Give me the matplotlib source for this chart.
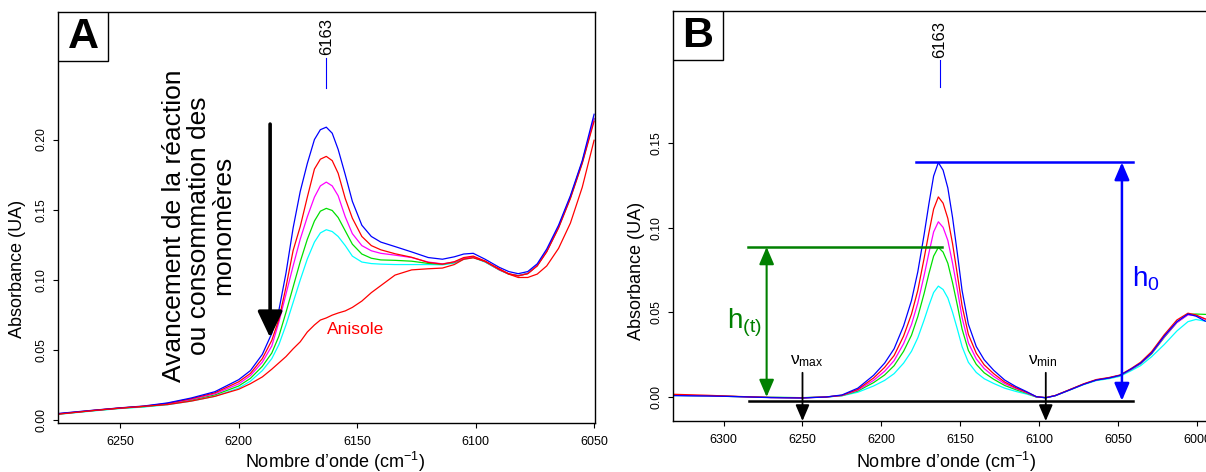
import matplotlib
matplotlib.use('Agg')
import matplotlib.pyplot as plt
from matplotlib.patches import Rectangle

plt.rcParams['font.family'] = ['Liberation Sans', 'DejaVu Sans']
plt.rcParams['mathtext.fontset'] = 'custom'
plt.rcParams['mathtext.rm'] = 'Liberation Sans'
plt.rcParams['mathtext.it'] = 'Liberation Sans:italic'
plt.rcParams['mathtext.bf'] = 'Liberation Sans:bold'

# ---- panneau A : spectres bruts ----
wnA = [6276, 6260, 6250, 6240, 6230, 6220, 6210, 6200, 6195, 6190, 6186, 6183, 6180, 6177, 6174,
       6171, 6168, 6165.5, 6163, 6160.5, 6158, 6155, 6152, 6148, 6144, 6140, 6134, 6127, 6120, 6114,
       6109, 6105, 6101, 6096, 6090, 6086, 6082, 6078, 6074, 6070, 6065, 6060, 6055, 6050]
blueA = [0.0050, 0.0075, 0.0090, 0.0103, 0.0125, 0.0160, 0.0205, 0.0290, 0.0355, 0.0470, 0.0620, 0.0785,
         0.1050, 0.1370, 0.1630, 0.1830, 0.2000, 0.2070, 0.2088, 0.2045, 0.1930, 0.1750, 0.1560, 0.1390,
         0.1310, 0.1270, 0.1238, 0.1200, 0.1160, 0.1148, 0.1165, 0.1185, 0.1190, 0.1148, 0.1090, 0.1060,
         0.1045, 0.1060, 0.1115, 0.1220, 0.1390, 0.1600, 0.1850, 0.2180]
redA = [0.0048, 0.0074, 0.0089, 0.0101, 0.0122, 0.0155, 0.0197, 0.0275, 0.0335, 0.0440, 0.0570, 0.0720,
        0.0950, 0.1210, 0.1380, 0.1590, 0.1790, 0.1860, 0.1880, 0.1850, 0.1760, 0.1580, 0.1440, 0.1310,
        0.1245, 0.1215, 0.1187, 0.1162, 0.1125, 0.1113, 0.1130, 0.1160, 0.1170, 0.1135, 0.1075, 0.1045,
        0.1030, 0.1045, 0.1100, 0.1200, 0.1370, 0.1580, 0.1830, 0.2130]
magentaA = [0.0047, 0.0073, 0.0088, 0.0100, 0.0119, 0.0150, 0.0190, 0.0260, 0.0320, 0.0415, 0.0530, 0.0700,
            0.0900, 0.1100, 0.1290, 0.1450, 0.1590, 0.1670, 0.1697, 0.1670, 0.1600, 0.1450, 0.1330, 0.1245,
            0.1208, 0.1190, 0.1177, 0.1160, 0.1128, 0.1115, 0.1128, 0.1155, 0.1165, 0.1132, 0.1073, 0.1043,
            0.1030, 0.1046, 0.1103, 0.1205, 0.1378, 0.1590, 0.1840, 0.2150]
greenA = [0.0046, 0.0072, 0.0087, 0.0098, 0.0116, 0.0145, 0.0182, 0.0245, 0.0300, 0.0385, 0.0480, 0.0600,
          0.0770, 0.0950, 0.1130, 0.1290, 0.1420, 0.1490, 0.1510, 0.1495, 0.1445, 0.1350, 0.1255, 0.1185,
          0.1155, 0.1143, 0.1140, 0.1134, 0.1118, 0.1112, 0.1125, 0.1152, 0.1163, 0.1130, 0.1072, 0.1042,
          0.1030, 0.1046, 0.1103, 0.1205, 0.1378, 0.1590, 0.1840, 0.2150]
cyanA = [0.0044, 0.0070, 0.0085, 0.0096, 0.0112, 0.0138, 0.0172, 0.0230, 0.0280, 0.0355, 0.0440, 0.0540,
         0.0680, 0.0840, 0.1000, 0.1150, 0.1270, 0.1335, 0.1358, 0.1345, 0.1310, 0.1245, 0.1170, 0.1128,
         0.1117, 0.1113, 0.1110, 0.1110, 0.1110, 0.1108, 0.1120, 0.1147, 0.1160, 0.1128, 0.1072, 0.1042,
         0.1032, 0.1048, 0.1105, 0.1205, 0.1375, 0.1585, 0.1835, 0.2145]
anisoleA = [0.0045, 0.0073, 0.0088, 0.0101, 0.0113, 0.0138, 0.0172, 0.0222, 0.0262, 0.0310, 0.0365, 0.0410,
            0.0455, 0.0510, 0.0560, 0.0630, 0.0680, 0.0715, 0.0730, 0.0750, 0.0765, 0.0780, 0.0805, 0.0850,
            0.0910, 0.0960, 0.1035, 0.1072, 0.1080, 0.1085, 0.1110, 0.1148, 0.1158, 0.1133, 0.1080, 0.1042,
            0.1018, 0.1018, 0.1042, 0.1100, 0.1225, 0.1405, 0.1660, 0.1995]

# ---- panneau B : spectres corrigés de la ligne de base ----
wnB = [6332, 6310, 6290, 6270, 6250, 6235, 6225, 6215, 6205, 6198, 6192, 6186, 6181, 6177, 6173,
       6170, 6167, 6164, 6161, 6158, 6155, 6152, 6149, 6145, 6140, 6135, 6129, 6122, 6115, 6108,
       6102, 6096, 6090, 6081, 6072, 6064, 6056, 6049, 6042, 6036, 6029, 6021, 6013, 6006, 6001, 5995]
blueB = [0.0008, 0.0006, 0.0002, -0.0004, -0.0006, 0.0000, 0.0012, 0.0052, 0.0128, 0.0200, 0.0285, 0.0420,
         0.0570, 0.0740, 0.0960, 0.1140, 0.1305, 0.1385, 0.1340, 0.1235, 0.1060, 0.0850, 0.0630, 0.0430,
         0.0298, 0.0220, 0.0158, 0.0100, 0.0062, 0.0031, 0.0002, -0.0005, 0.0008, 0.0041, 0.0075, 0.0100,
         0.0112, 0.0128, 0.0165, 0.0200, 0.0260, 0.0360, 0.0445, 0.0490, 0.0478, 0.0448]
redB = [0.0016, 0.0010, 0.0003, -0.0003, -0.0005, 0.0000, 0.0010, 0.0045, 0.0112, 0.0175, 0.0245, 0.0360,
        0.0490, 0.0630, 0.0820, 0.0970, 0.1110, 0.1182, 0.1145, 0.1055, 0.0905, 0.0725, 0.0540, 0.0370,
        0.0258, 0.0190, 0.0138, 0.0088, 0.0055, 0.0028, 0.0002, -0.0004, 0.0009, 0.0043, 0.0078, 0.0103,
        0.0115, 0.0130, 0.0168, 0.0205, 0.0268, 0.0368, 0.0455, 0.0495, 0.0485, 0.0460]
magentaB = [0.0010, 0.0007, 0.0002, -0.0003, -0.0005, 0.0000, 0.0009, 0.0040, 0.0098, 0.0152, 0.0215, 0.0315,
            0.0428, 0.0555, 0.0718, 0.0850, 0.0975, 0.1035, 0.1002, 0.0925, 0.0790, 0.0635, 0.0470, 0.0320,
            0.0225, 0.0168, 0.0122, 0.0079, 0.0050, 0.0025, 0.0001, -0.0004, 0.0008, 0.0042, 0.0076, 0.0101,
            0.0113, 0.0128, 0.0163, 0.0198, 0.0258, 0.0355, 0.0440, 0.0485, 0.0480, 0.0462]
greenB = [0.0010, 0.0007, 0.0002, -0.0002, -0.0004, 0.0000, 0.0008, 0.0035, 0.0085, 0.0130, 0.0185, 0.0270,
          0.0365, 0.0475, 0.0612, 0.0728, 0.0832, 0.0884, 0.0856, 0.0790, 0.0675, 0.0543, 0.0402, 0.0275,
          0.0193, 0.0143, 0.0105, 0.0068, 0.0043, 0.0022, 0.0000, -0.0004, 0.0008, 0.0042, 0.0076, 0.0100,
          0.0112, 0.0127, 0.0162, 0.0196, 0.0255, 0.0352, 0.0440, 0.0488, 0.0490, 0.0488]
cyanB = [0.0009, 0.0006, 0.0002, -0.0002, -0.0004, 0.0000, 0.0007, 0.0028, 0.0065, 0.0098, 0.0138, 0.0200,
         0.0270, 0.0350, 0.0455, 0.0540, 0.0617, 0.0655, 0.0635, 0.0585, 0.0500, 0.0402, 0.0298, 0.0205,
         0.0145, 0.0108, 0.0080, 0.0052, 0.0033, 0.0017, 0.0000, -0.0004, 0.0007, 0.0040, 0.0073, 0.0097,
         0.0108, 0.0122, 0.0155, 0.0185, 0.0238, 0.0310, 0.0390, 0.0445, 0.0458, 0.0448]

# hauteurs / bornes de l'intégration (panneau B)
h0 = 0.1386
ht = 0.0886
base = -0.0022
nu_max, nu_min = 6250, 6096

ticksA_x = [6250, 6200, 6150, 6100, 6050]
ticksA_y = [0.00, 0.05, 0.10, 0.15, 0.20]
ticksB_x = [6300, 6250, 6200, 6150, 6100, 6050, 6000]
ticksB_y = [0.00, 0.05, 0.10, 0.15]

GREEN = '#008000'
fig = plt.figure(figsize=(12.06, 4.72), dpi=100)
axA = fig.add_axes([0.0481, 0.1038, 0.4453, 0.8708])
axB = fig.add_axes([0.5580, 0.1080, 0.4480, 0.8686])


def style(ax, xt, yt, xlim, ylim, letter):
    ax.set_xlim(*xlim); ax.set_ylim(*ylim)
    ax.set_xticks(xt); ax.set_yticks(yt)
    ax.set_xticklabels([str(v) for v in xt], fontsize=9)
    ax.set_yticklabels([f'{v:.2f}' for v in yt], fontsize=8.8, rotation=90, va='center')
    ax.tick_params(length=3.6, width=0.8, pad=6)
    ax.tick_params(axis='y', pad=4)
    for s in ax.spines.values():
        s.set_linewidth(1.0)
    ax.add_patch(Rectangle((0, 0.881), 0.093, 0.119, transform=ax.transAxes, fc='white',
                           ec='black', lw=1.0, zorder=5))
    ax.text(0.0465, 0.938, letter, transform=ax.transAxes, ha='center', va='center',
            fontsize=31, fontweight='bold', zorder=6)
    ax.set_ylabel('Absorbance (UA)', fontsize=13)
    ax.set_xlabel('Nombre d’onde (cm$^{\\mathregular{-1}}$)', fontsize=13)
    ax.yaxis.label.set_va('center')
    ax.xaxis.label.set_va('center')


style(axA, ticksA_x, ticksA_y, (6276.2, 6049.6), (-0.0018, 0.2908), 'A')
style(axB, ticksB_x, ticksB_y, (6332, 5990), (-0.0142, 0.228), 'B')
axA.yaxis.set_label_coords(-0.0745, 0.375)
axA.xaxis.set_label_coords(0.516, -0.095)
axB.yaxis.set_label_coords(-0.0674, 0.366)
axB.xaxis.set_label_coords(0.506, -0.100)

lw = 0.9
for ys, c in [(cyanA, 'cyan'), (greenA, '#00e000'), (magentaA, 'magenta'), (redA, 'red'), (blueA, 'blue')]:
    axA.plot(wnA, ys, color=c, lw=lw, solid_joinstyle='round')
axA.plot(wnA, anisoleA, color='red', lw=lw, solid_joinstyle='round')

for ys, c in [(cyanB, 'cyan'), (greenB, '#00e000'), (magentaB, 'magenta'), (redB, 'red'), (blueB, 'blue')]:
    axB.plot(wnB, ys, color=c, lw=lw, solid_joinstyle='round')

# repère 6163
axA.plot([6163, 6163], [0.237, 0.258], color='blue', lw=0.8)
axA.text(6163, 0.260, '6163', rotation=90, ha='center', va='bottom', fontsize=12)
axB.plot([6163, 6163], [0.183, 0.199], color='blue', lw=0.8)
axB.text(6163, 0.2005, '6163', rotation=90, ha='center', va='bottom', fontsize=12)

# annotations A
axA.annotate('', xy=(6186.7, 0.059), xytext=(6186.7, 0.211),
             arrowprops=dict(arrowstyle='-|>,head_length=0.8,head_width=0.38', lw=2.6, color='black',
                             mutation_scale=20, shrinkA=0, shrinkB=0))
axA.text(6216.9, 0.1386, 'Avancement de la réaction\nou consommation des\nmonomères', rotation=90,
         ha='center', va='center', multialignment='center', fontsize=19, linespacing=1.05)
axA.text(6162.9, 0.0647, 'Anisole', color='red', ha='left', va='center', fontsize=12.5)

# annotations B
axB.plot([6284, 6041], [base, base], color='black', lw=1.8)
axB.plot([6178, 6041], [h0, h0], color='blue', lw=1.8)
axB.plot([6284.5, 6162], [ht, ht], color=GREEN, lw=1.8)
axB.annotate('', xy=(6272.7, 0.0), xytext=(6272.7, ht),
             arrowprops=dict(arrowstyle='<|-|>,head_length=0.7,head_width=0.3', lw=1.5, color=GREEN,
                             mutation_scale=15, shrinkA=0, shrinkB=0))
axB.annotate('', xy=(6047.8, base), xytext=(6047.8, h0),
             arrowprops=dict(arrowstyle='<|-|>,head_length=0.7,head_width=0.3', lw=1.8, color='blue',
                             mutation_scale=15, shrinkA=0, shrinkB=0))
for nu in (nu_max, nu_min):
    axB.annotate('', xy=(nu, -0.0142), xytext=(nu, 0.0143),
                 arrowprops=dict(arrowstyle='-|>,head_length=0.7,head_width=0.3', lw=1.3, color='black',
                                 mutation_scale=14, shrinkA=0, shrinkB=0))
axB.text(6041.5, 0.065, 'h$_\\mathregular{0}$', color='blue', ha='left', va='baseline', fontsize=20)
axB.text(6298.1, 0.0407, 'h$_\\mathregular{(t)}$', color=GREEN, ha='left', va='baseline', fontsize=20)
axB.text(6257.9, 0.0195, 'ν$_\\mathregular{max}$', ha='left', va='baseline', fontsize=12.5)
axB.text(6107.3, 0.0195, 'ν$_\\mathregular{min}$', ha='left', va='baseline', fontsize=12.5)

fig.savefig('out.png', dpi=100)
